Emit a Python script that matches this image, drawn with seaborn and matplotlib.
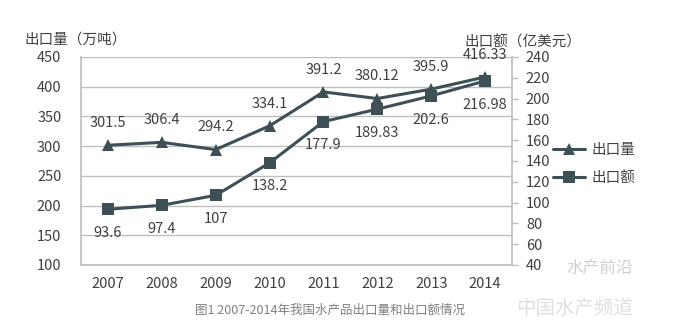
import matplotlib
matplotlib.use("Agg")
import matplotlib.pyplot as plt
from matplotlib.lines import Line2D
import seaborn as sns
import pandas as pd

years = ["2007", "2008", "2009", "2010", "2011", "2012", "2013", "2014"]
volume = [301.5, 306.4, 294.2, 334.1, 391.2, 380.12, 395.9, 416.33]   # 万吨
value = [93.6, 97.4, 107, 138.2, 177.9, 189.83, 202.6, 216.98]         # 亿美元
volume_labels = ["301.5", "306.4", "294.2", "334.1", "391.2", "380.12", "395.9", "416.33"]
value_labels = ["93.6", "97.4", "107", "138.2", "177.9", "189.83", "202.6", "216.98"]

sns.set_theme(style="white")
plt.rcParams["font.family"] = ["Noto Sans CJK SC", "DejaVu Sans"]

LINE = "#3e5056"
TXT = "#404040"
GRID = "#bfbfbf"

df = pd.DataFrame({"year": years, "volume": volume, "value": value})

fig = plt.figure(figsize=(6.82, 3.34), dpi=100)
ax = fig.add_axes([81 / 682, 1 - 265 / 334, 431 / 682, 208 / 334])
ax2 = ax.twinx()

sns.lineplot(data=df, x="year", y="volume", ax=ax, color=LINE, lw=2.2,
             marker="^", markersize=8, markeredgewidth=0, sort=False)
sns.lineplot(data=df, x="year", y="value", ax=ax2, color=LINE, lw=2.2,
             marker="s", markersize=9, markeredgewidth=0, sort=False)

ax.set_xlim(-0.5, 7.5)
ax.set_ylim(100, 450)
ax.set_yticks(range(100, 451, 50))
ax2.set_ylim(40, 240)
ax2.set_yticks(range(40, 241, 20))

ax.set_xlabel("")
ax.set_ylabel("")
ax2.set_ylabel("")

ax.yaxis.grid(True, color=GRID, lw=1)
ax.xaxis.grid(False)
ax.set_axisbelow(True)

for a in (ax, ax2):
    for s in a.spines.values():
        s.set_visible(False)
    a.tick_params(labelsize=10.5, labelcolor=TXT)
ax.spines["left"].set_visible(True)
ax.spines["left"].set_color(GRID)
ax.spines["bottom"].set_visible(True)
ax.spines["bottom"].set_color(GRID)
ax2.spines["right"].set_visible(True)
ax2.spines["right"].set_color(GRID)

ax.tick_params(axis="y", length=0, pad=14)
ax.tick_params(axis="x", length=0, pad=9)
ax2.tick_params(axis="y", length=4, width=1, color=GRID, direction="out", pad=6)

for i, (v, lab) in enumerate(zip(volume, volume_labels)):
    ax.annotate(lab, (i, v), xytext=(0, 16), textcoords="offset points",
                ha="center", va="center", fontsize=10.5, color=TXT)
for i, (v, lab) in enumerate(zip(value, value_labels)):
    ax2.annotate(lab, (i, v), xytext=(0, -17), textcoords="offset points",
                 ha="center", va="center", fontsize=10.5, color=TXT)

fig.text(25 / 682, 1 - 40 / 334, "出口量（万吨）", fontsize=10.5, color=TXT,
         ha="left", va="center")
fig.text(465 / 682, 1 - 42 / 334, "出口额（亿美元）", fontsize=10.5, color=TXT,
         ha="left", va="center")

handles = [
    Line2D([], [], color=LINE, lw=2.2, marker="^", markersize=8, markeredgewidth=0),
    Line2D([], [], color=LINE, lw=2.2, marker="s", markersize=8, markeredgewidth=0),
]
fig.legend(handles, ["出口量", "出口额"], loc="center left",
           bbox_to_anchor=(540 / 682, 1 - 164 / 334), frameon=False,
           fontsize=10.5, labelcolor=TXT, handlelength=2.2, handletextpad=0.4,
           labelspacing=1.0)

fig.text(330 / 682, 1 - 310 / 334, "图1 2007-2014年我国水产品出口量和出口额情况",
         fontsize=9, color="#7f7f7f", ha="center", va="center")

# faint channel marks along the lower right edge
fig.text(600 / 682, 1 - 268 / 334, "水产前沿", fontsize=12, color="#d0d0d0",
         ha="center", va="center")
fig.text(575 / 682, 1 - 308 / 334, "中国水产频道", fontsize=14, color="#e0e0e0",
         ha="center", va="center", style="italic")

fig.savefig("out.png", dpi=100)
